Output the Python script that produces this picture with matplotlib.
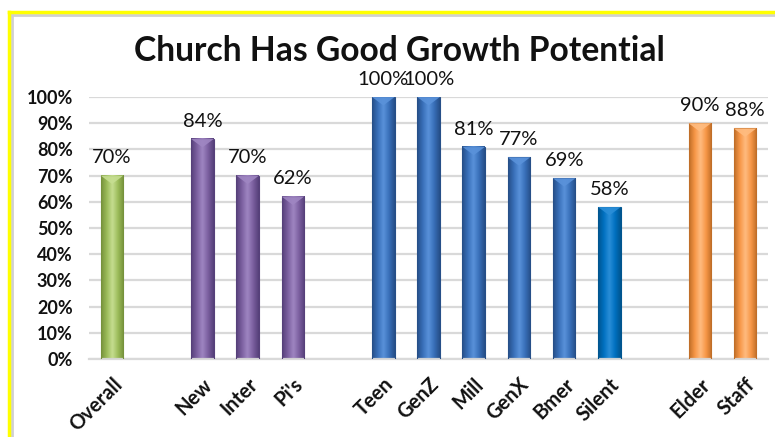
import matplotlib
matplotlib.use("Agg")
import matplotlib.pyplot as plt
import numpy as np
from matplotlib.colors import LinearSegmentedColormap
from matplotlib.lines import Line2D
from matplotlib.patches import Polygon
from matplotlib.ticker import FuncFormatter

plt.rcParams["font.family"] = ["Lato", "DejaVu Sans"]

# data
categories = ["Overall", "New", "Inter", "Pi's", "Teen", "GenZ", "Mill", "GenX", "Bmer", "Silent", "Elder", "Staff"]
values = [70, 84, 70, 62, 100, 100, 81, 77, 69, 58, 90, 88]
groups = ["overall", "member", "member", "member", "age", "age", "age", "age", "age", "silent", "leader", "leader"]

# (dark, base, light) per group
palette = {
    "overall": ("#76923C", "#9BBB59", "#C6DE91"),
    "member": ("#56407A", "#7B5F9F", "#9F86C2"),
    "age": ("#264F88", "#386FB9", "#5A92DA"),
    "silent": ("#00558F", "#0070C0", "#2A8ED8"),
    "leader": ("#C06E28", "#F79646", "#FFBC80"),
}

# one empty slot between groups
positions = []
slot = 0
for i, g in enumerate(groups):
    if i > 0 and g != groups[i - 1] and not (g == "silent" and groups[i - 1] == "age"):
        slot += 1
    positions.append(slot)
    slot += 1
n_slots = slot

fig = plt.figure(figsize=(7.75, 4.37), dpi=100)
ax = fig.add_axes([0.1154, 0.1785, 0.8751, 0.5995])

width = 0.5
grad = np.linspace(0, 1, 64).reshape(1, -1)
for x, v, g in zip(positions, values, groups):
    dark, base, light = palette[g]
    cmap = LinearSegmentedColormap.from_list(g, [dark, base, light, base, dark])
    x0, x1 = x - width / 2, x + width / 2
    ax.imshow(grad, extent=[x0, x1, 0, v], aspect="auto", cmap=cmap, zorder=2, interpolation="bicubic")
    ax.add_patch(plt.Rectangle((x0, 0), width, v, fill=False, edgecolor=dark, linewidth=0.8, zorder=3))
    # bevelled top
    ax.add_patch(Polygon([(x0, v), (x1, v), (x, v - 3.2)], closed=True, facecolor=light, edgecolor="none", alpha=0.9, zorder=3))
    ax.text(x, v + 3.5, f"{v}%", ha="center", va="bottom", fontsize=14.5, color="#111111", zorder=4)

ax.set_xlim(-0.5, n_slots - 0.5)
ax.set_ylim(0, 100)
ax.set_yticks(range(0, 101, 10))
ax.yaxis.set_major_formatter(FuncFormatter(lambda v, p: f"{int(v)}%"))
ax.set_xticks(positions)
ax.set_xticklabels(categories, rotation=45, ha="right", rotation_mode="anchor", fontsize=14.5, fontweight="bold")
for lab in ax.get_yticklabels():
    lab.set_fontweight("bold")
    lab.set_fontsize(13)
ax.tick_params(axis="both", length=0, colors="#111111")
ax.tick_params(axis="y", pad=12)
ax.tick_params(axis="x", pad=11)
ax.grid(axis="y", color="#D9D9D9", linewidth=1.6, zorder=0)
ax.set_axisbelow(True)
for s in ["top", "right", "left"]:
    ax.spines[s].set_visible(False)
ax.spines["bottom"].set_color("#D9D9D9")
ax.spines["bottom"].set_linewidth(1.6)

fig.text(0.515, 0.883, "Church Has Good Growth Potential", ha="center", va="center", fontsize=24.2, fontweight="bold", color="#111111")

# yellow frame on top and left edges
fig.add_artist(Line2D([9.5 / 775, 1], [1 - 14.5 / 437] * 2, color="#D0D0D0", linewidth=2, transform=fig.transFigure))
fig.add_artist(Line2D([11.5 / 775] * 2, [0, 1 - 12 / 437], color="#D0D0D0", linewidth=2, transform=fig.transFigure))
fig.add_artist(Line2D([9 / 775, 1], [1 - 12 / 437] * 2, color="#FFFF00", linewidth=2.5, transform=fig.transFigure))
fig.add_artist(Line2D([9 / 775] * 2, [0, 1 - 12 / 437], color="#FFFF00", linewidth=2.5, transform=fig.transFigure))

fig.savefig("out.png", dpi=100)
